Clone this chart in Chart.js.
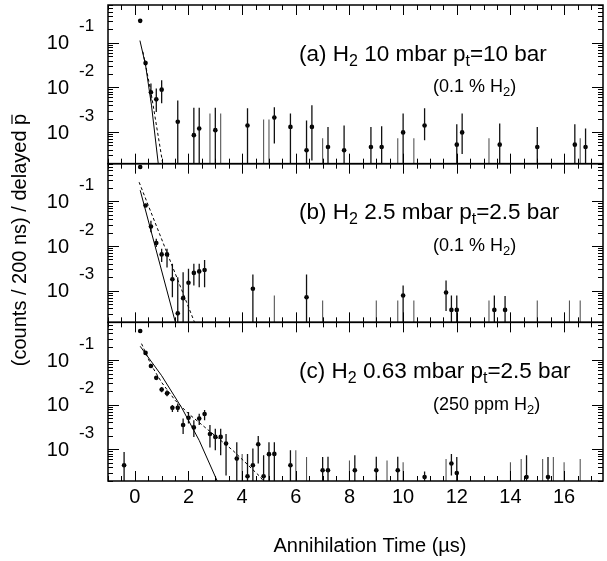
<!DOCTYPE html>
<html>
<head>
<meta charset="utf-8">
<script src="https://cdn.jsdelivr.net/npm/chart.js@4.4.0/dist/chart.umd.min.js"></script>
<style>
  html, body { margin: 0; padding: 0; background: #fff; }
  #wrap { width: 607px; height: 561px; }
</style>
</head>
<body>
<div id="wrap"><canvas id="annChart" width="607" height="561"></canvas></div>
<script>
// 축 범위
const X_MIN = -1.0, X_MAX = 17.45;
const Y_MIN = 1.95e-4, Y_MAX = 0.703;
const FLOOR = 1e-5; // error bar that runs off the bottom of a panel

// (a) H2 10 mbar, pt = 10 bar
const aX  = [0.2, 0.4, 0.6, 0.8, 1.0, 1.6, 2.2, 2.4, 3.0, 4.2, 5.2, 5.8, 6.4, 6.6, 7.2, 7.8, 8.8, 9.2, 10.0, 10.8, 12.0, 12.2, 13.6, 15.0, 16.4, 16.8];
const aY  = [0.31, 0.035, 0.0078, 0.0054, 0.0089, 0.0017, 8.5e-4, 1.2e-3, 1.1e-3, 1.4e-3, 2.1e-3, 1.3e-3, 3.9e-4, 1.3e-3, 4.6e-4, 3.9e-4, 4.6e-4, 4.6e-4, 9.8e-4, 1.4e-3, 5.2e-4, 9.8e-4, 5.2e-4, 4.6e-4, 5.2e-4, 4.6e-4];
const aLo = [0.29, 0.031, 0.0051, 0.0028, 0.0044, FLOOR, FLOOR, FLOOR, FLOOR, FLOOR, 5.5e-4, FLOOR, FLOOR, 2.3e-4, FLOOR, FLOOR, FLOOR, FLOOR, FLOOR, 6.5e-4, FLOOR, 3.2e-4, FLOOR, FLOOR, FLOOR, FLOOR];
const aHi = [0.33, 0.040, 0.0123, 0.0095, 0.0145, 0.0051, 0.0035, 0.0035, 0.0035, 0.0034, 0.0036, 0.0026, 0.0018, 0.0040, 1.3e-3, 1.4e-3, 1.3e-3, 1.35e-3, 2.6e-3, 3.4e-3, 1.5e-3, 2.6e-3, 1.55e-3, 1.3e-3, 1.5e-3, 1.2e-3];
const aZeroX  = [2.8, 3.2, 4.8, 5.0, 7.0, 9.8, 10.4, 13.2, 16.6];
const aZeroHi = [2.6e-3, 2.6e-3, 1.9e-3, 1.9e-3, 7.2e-4, 7.2e-4, 7.2e-4, 7.2e-4, 7.2e-4];
const aSolidX = [0.19, 0.4, 0.62, 0.88];
const aSolidY = [0.112, 0.0316, 0.004, 1.8e-4];
const aDashX  = [0.3, 0.6, 1.05];
const aDashY  = [0.063, 0.0079, 1.8e-4];

// (b) H2 2.5 mbar, pt = 2.5 bar
const bX  = [0.2, 0.4, 0.6, 0.8, 1.0, 1.2, 1.4, 1.6, 1.8, 2.0, 2.2, 2.4, 2.6, 4.4, 6.4, 10.0, 11.6, 11.8, 12.0, 13.4, 13.8];
const bY  = [0.59, 0.081, 0.0275, 0.0117, 0.0065, 0.0065, 0.0018, 3.1e-4, 6.8e-4, 1.5e-3, 2.5e-3, 2.7e-3, 2.9e-3, 1.1e-3, 7.1e-4, 7.8e-4, 9.1e-4, 3.7e-4, 3.7e-4, 3.7e-4, 3.7e-4];
const bLo = [0.56, 0.075, 0.0204, 0.0095, 0.0044, 0.0033, 7.1e-4, FLOOR, FLOOR, FLOOR, 1.3e-3, 1.2e-3, 1.2e-3, FLOOR, FLOOR, FLOOR, 3.5e-4, FLOOR, FLOOR, FLOOR, FLOOR];
const bHi = [0.62, 0.088, 0.037, 0.0145, 0.0087, 0.0087, 0.004, 0.002, 0.0026, 0.0031, 0.004, 0.004, 0.0049, 0.0023, 0.0023, 1.3e-3, 1.7e-3, 7.8e-4, 7.8e-4, 7.8e-4, 7.6e-4];
const bZeroX  = [5.2, 7.0, 9.0, 9.8, 10.4, 13.2, 15.0, 16.2, 16.6];
const bZeroHi = [7.8e-4, 6e-4, 6e-4, 6e-4, 6e-4, 6e-4, 6e-4, 6e-4, 6e-4];
const bSolidX = [0.2, 1.55];
const bSolidY = [0.178, 1.6e-4];
const bDashX  = [0.16, 2.3];
const bDashY  = [0.27, 1.5e-4];

// (c) H2 0.63 mbar, pt = 2.5 bar
const cX  = [-0.4, 0.2, 0.4, 0.6, 0.8, 1.0, 1.2, 1.4, 1.6, 1.8, 2.0, 2.2, 2.4, 2.6, 2.8, 3.0, 3.2, 3.4, 3.8, 4.2, 4.4, 4.6, 4.8, 5.0, 5.2, 5.8, 7.0, 7.2, 8.2, 9.0, 9.8, 10.8, 11.8, 12.0, 14.6, 15.4];
const cY  = [4.4e-4, 0.45, 0.145, 0.074, 0.040, 0.022, 0.018, 0.0085, 0.0085, 3.5e-3, 5.1e-3, 3.1e-3, 4.9e-3, 6.2e-3, 2.2e-3, 1.9e-3, 1.9e-3, 1.35e-3, 6.2e-4, 2.5e-4, 4.4e-4, 1.3e-3, 2.5e-4, 7.8e-4, 7.9e-4, 4.4e-4, 3.4e-4, 3.4e-4, 3.4e-4, 3.4e-4, 3.4e-4, 2.4e-4, 4.8e-4, 2.95e-4, 2.4e-4, 2.4e-4];
const cLo = [FLOOR, 0.43, 0.135, 0.068, 0.036, 0.019, 0.0155, 0.0069, 0.0069, 2.2e-3, 3.8e-3, 1.9e-3, 3.5e-3, 4.5e-3, 1.1e-3, 9.5e-4, 7.4e-4, 2.6e-4, FLOOR, FLOOR, FLOOR, 4.8e-4, FLOOR, FLOOR, FLOOR, FLOOR, FLOOR, FLOOR, FLOOR, FLOOR, FLOOR, FLOOR, 2.6e-4, FLOOR, FLOOR, FLOOR];
const cHi = [8.7e-4, 0.47, 0.155, 0.080, 0.044, 0.025, 0.021, 0.0098, 0.0107, 4.9e-3, 6.9e-3, 4.5e-3, 6.3e-3, 7.6e-3, 3.5e-3, 2.9e-3, 2.9e-3, 2.2e-3, 1.45e-3, 7.9e-4, 1.04e-3, 2.0e-3, 7.4e-4, 1.45e-3, 1.45e-3, 9.5e-4, 6.7e-4, 6.8e-4, 7.4e-4, 6.8e-4, 6.8e-4, 3.2e-4, 7.9e-4, 6.7e-4, 7.4e-4, 6.7e-4];
const cZeroX  = [4.0, 6.0, 6.4, 8.0, 9.4, 10.0, 11.6, 14.0, 14.4, 15.2, 15.6, 16.0, 16.6];
const cZeroHi = [7.9e-4, 9.5e-4, 6.7e-4, 5.6e-4, 5.6e-4, 5.1e-4, 6.1e-4, 5.1e-4, 6.1e-4, 6.1e-4, 6.7e-4, 5.1e-4, 6.1e-4];
const cSolidX = [0.2, 1.0, 1.75, 2.4, 3.1];
const cSolidY = [0.204, 0.0447, 0.0085, 0.00158, 1.78e-4];
const cDashX  = [0.25, 0.6, 1.0, 1.5, 2.0, 2.5, 3.0, 3.65, 4.65, 4.85];
const cDashY  = [0.234, 0.0794, 0.0316, 0.0126, 0.0063, 0.00355, 0.002, 9.5e-4, 2.5e-4, 1.78e-4];

// tick labels
const xTickVals = [0, 2, 4, 6, 8, 10, 12, 14, 16];
const yDecades = [-1, -2, -3];

const panelTitles = [
  { main: [['(a) H', 0], ['2', 1], [' 10 mbar p', 0], ['t', 1], ['=10 bar', 0]], sub: [['(0.1 % H', 0], ['2', 1], [')', 0]] },
  { main: [['(b) H', 0], ['2', 1], [' 2.5 mbar p', 0], ['t', 1], ['=2.5 bar', 0]], sub: [['(0.1 % H', 0], ['2', 1], [')', 0]] },
  { main: [['(c) H', 0], ['2', 1], [' 0.63 mbar p', 0], ['t', 1], ['=2.5 bar', 0]], sub: [['(250 ppm H', 0], ['2', 1], [')', 0]] },
];

const FONT = '"Liberation Sans", Arial, Helvetica, sans-serif';
const panelIds = ['ya', 'yb', 'yc'];

function pts(xs, ys) {
  return xs.map((x, i) => ({ x: x, y: ys[i] }));
}
// vertical segments lo->hi, split with null
function errSegs(xs, lo, hi) {
  const out = [];
  xs.forEach((x, i) => {
    out.push({ x: x, y: lo[i] }, { x: x, y: hi[i] }, { x: x, y: null });
  });
  return out;
}

function panelSets(id, X, Y, Lo, Hi, ZX, ZHi, sX, sY, dX, dY) {
  const zeroLo = ZX.map(() => FLOOR);
  return [
    { type: 'line', yAxisID: id, data: pts(sX, sY), borderColor: '#000', borderWidth: 1, pointRadius: 0 },
    { type: 'line', yAxisID: id, data: pts(dX, dY), borderColor: '#000', borderWidth: 1, borderDash: [3, 2.5], pointRadius: 0 },
    { type: 'line', yAxisID: id, data: errSegs(X, Lo, Hi), borderColor: '#111', borderWidth: 1.3, pointRadius: 0, spanGaps: false },
    { type: 'line', yAxisID: id, data: errSegs(ZX, zeroLo, ZHi), borderColor: '#555', borderWidth: 1.1, pointRadius: 0, spanGaps: false },
    { type: 'scatter', yAxisID: id, data: pts(X, Y), backgroundColor: '#000', borderColor: '#000', pointRadius: 2.3, borderWidth: 0 },
  ];
}

function drawRich(ctx, parts, x, y, size, subSize, subDy) {
  parts.forEach(([txt, isSub]) => {
    ctx.font = (isSub ? subSize : size) + 'px ' + FONT;
    ctx.fillText(txt, x, y + (isSub ? subDy : 0));
    x += ctx.measureText(txt).width;
  });
}

const paperPlugin = {
  id: 'paperFrame',
  afterDatasetsDraw(chart) {
    const ctx = chart.ctx;
    const xs = chart.scales.x;
    ctx.save();
    ctx.strokeStyle = '#000';
    ctx.fillStyle = '#000';

    panelIds.forEach((id, k) => {
      const ys = chart.scales[id];
      // frame
      ctx.lineWidth = 1.5;
      ctx.strokeRect(xs.left, ys.top, xs.right - xs.left, ys.bottom - ys.top);

      // x ticks, top and bottom, inward
      ctx.lineWidth = 1;
      ctx.beginPath();
      for (let i = -2; i <= 34; i++) {
        const px = Math.round(xs.getPixelForValue(i / 2)) + 0.5;
        if (px < xs.left || px > xs.right) continue;
        const len = (i % 4 === 0) ? 10 : 5;
        ctx.moveTo(px, ys.top); ctx.lineTo(px, ys.top + len);
        ctx.moveTo(px, ys.bottom); ctx.lineTo(px, ys.bottom - len);
      }
      // log ticks, left and right, inward
      for (let e = -4; e <= 0; e++) {
        for (let m = 1; m <= 9; m++) {
          const v = m * Math.pow(10, e);
          if (v < Y_MIN || v > Y_MAX) continue;
          const py = Math.round(ys.getPixelForValue(v)) + 0.5;
          const len = m === 1 ? 11 : 5;
          ctx.moveTo(xs.left, py); ctx.lineTo(xs.left + len, py);
          ctx.moveTo(xs.right, py); ctx.lineTo(xs.right - len, py);
        }
      }
      ctx.stroke();

      // y labels 10^-n
      yDecades.forEach(d => {
        const py = ys.getPixelForValue(Math.pow(10, d));
        ctx.textBaseline = 'middle';
        ctx.textAlign = 'right';
        ctx.font = '20px ' + FONT;
        ctx.fillText('10', 69, py + 1);
        ctx.textAlign = 'left';
        ctx.font = '17px ' + FONT;
        ctx.fillText(String(d), 79, py - 16);
      });

      // panel titles, hung off the 10^-1 and 10^-2 rows
      ctx.textAlign = 'left';
      ctx.textBaseline = 'alphabetic';
      const t = panelTitles[k];
      const row1 = ys.getPixelForValue(1e-1);
      const row2 = ys.getPixelForValue(1e-2);
      drawRich(ctx, t.main, 299, row1 + 18, 22.5, 16, 5);
      drawRich(ctx, t.sub, 433, row2 + 5, 18, 13, 4);
    });

    // x tick labels
    ctx.font = '20px ' + FONT;
    ctx.textAlign = 'center';
    ctx.textBaseline = 'middle';
    xTickVals.forEach(v => {
      ctx.fillText(String(v), xs.getPixelForValue(v), 497);
    });

    // axis titles
    ctx.fillText('Annihilation Time (\u00b5s)', 370, 546);

    ctx.save();
    ctx.translate(19, 240);
    ctx.rotate(-Math.PI / 2);
    ctx.textAlign = 'center';
    ctx.textBaseline = 'alphabetic';
    ctx.font = '20px ' + FONT;
    const label = '(counts / 200 ns) / delayed p';
    ctx.fillText(label, 0, 7);
    const w = ctx.measureText(label).width;
    const wp = ctx.measureText('p').width;
    ctx.lineWidth = 1.2;
    ctx.beginPath();
    ctx.moveTo(w / 2 - wp + 1, 7 - 14);
    ctx.lineTo(w / 2 - 1, 7 - 14);
    ctx.stroke();
    ctx.restore();

    ctx.restore();
  }
};

const yBase = {
  type: 'logarithmic', min: Y_MIN, max: Y_MAX, stack: 'panels', position: 'left',
  ticks: { display: false }, grid: { display: false, drawTicks: false }, border: { display: false }
};

new Chart(document.getElementById('annChart').getContext('2d'), {
  type: 'scatter',
  data: {
    datasets: [
      ...panelSets('ya', aX, aY, aLo, aHi, aZeroX, aZeroHi, aSolidX, aSolidY, aDashX, aDashY),
      ...panelSets('yb', bX, bY, bLo, bHi, bZeroX, bZeroHi, bSolidX, bSolidY, bDashX, bDashY),
      ...panelSets('yc', cX, cY, cLo, cHi, cZeroX, cZeroHi, cSolidX, cSolidY, cDashX, cDashY),
    ]
  },
  options: {
    responsive: false,
    animation: false,
    devicePixelRatio: 1,
    layout: { padding: { left: 108, right: 2, top: 5, bottom: 80 } },
    plugins: { legend: { display: false }, tooltip: { enabled: false } },
    scales: {
      x: {
        type: 'linear', min: X_MIN, max: X_MAX,
        ticks: { display: false }, grid: { display: false, drawTicks: false }, border: { display: false }
      },
      ya: { ...yBase, weight: 3 },
      yb: { ...yBase, weight: 2 },
      yc: { ...yBase, weight: 1 },
    }
  },
  plugins: [paperPlugin]
});
</script>
</body>
</html>
